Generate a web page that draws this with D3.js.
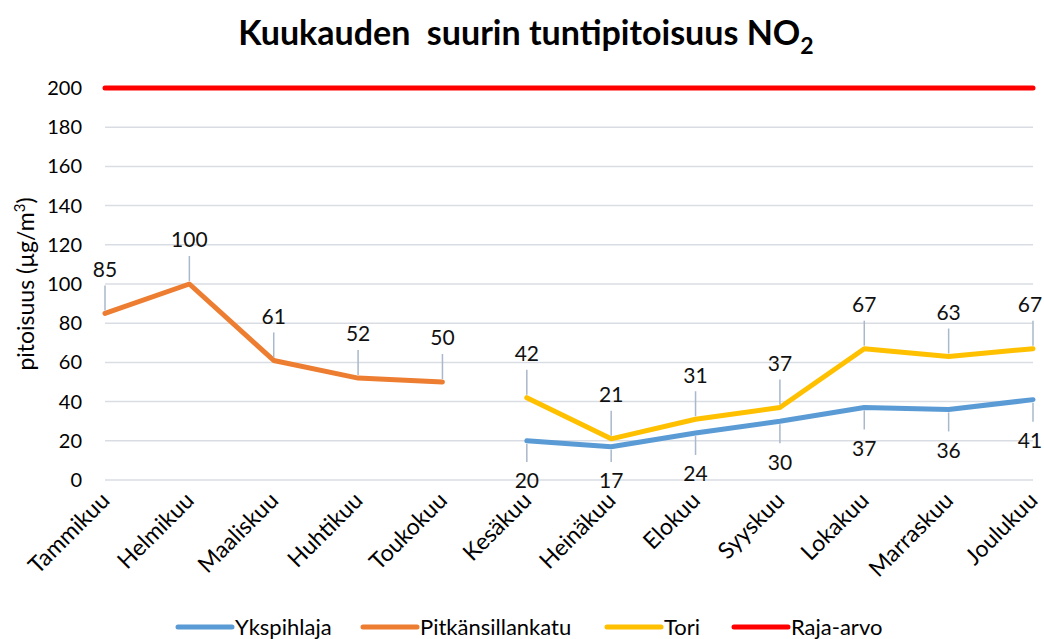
<!DOCTYPE html>
<meta charset="utf-8">
<style>
    body { margin: 0; background: #fff; }
    svg { font-family: Lato, "Open Sans", sans-serif; }
    .grid line { stroke: #D9DDE3; stroke-width: 1.5; }
    .ytick { font-size: 20px; fill: #000; text-anchor: end; }
    .xtick { font-size: 23px; fill: #000; text-anchor: end; }
    .series { fill: none; stroke-width: 5; stroke-linejoin: round; stroke-linecap: round; }
    .leader { stroke: #A9B8CB; stroke-width: 1.5; }
    .dlabel { font-size: 21px; fill: #111; text-anchor: middle; }
    .legend text { font-size: 22px; fill: #000; }
</style>
<body>
<script src="https://cdn.jsdelivr.net/npm/d3@7"></script>
<script>
    var months = ["Tammikuu", "Helmikuu", "Maaliskuu", "Huhtikuu", "Toukokuu", "Kesäkuu",
                  "Heinäkuu", "Elokuu", "Syyskuu", "Lokakuu", "Marraskuu", "Joulukuu"];

    // null = no measurement that month
    var ykspihlaja       = [null, null, null, null, null, 20, 17, 24, 30, 37, 36, 41];
    var pitkansillankatu = [85, 100, 61, 52, 50, null, null, null, null, null, null, null];
    var tori             = [null, null, null, null, null, 42, 21, 31, 37, 67, 63, 67];
    var rajaArvo         = [200, 200, 200, 200, 200, 200, 200, 200, 200, 200, 200, 200];

    var yTicks = [0, 20, 40, 60, 80, 100, 120, 140, 160, 180, 200];

    var series = [
        {name: "Ykspihlaja", values: ykspihlaja, color: "#5B9BD5", label: "below"},
        {name: "Pitkänsillankatu", values: pitkansillankatu, color: "#ED7D31", label: "above"},
        {name: "Tori", values: tori, color: "#FFC000", label: "above"},
        {name: "Raja-arvo", values: rajaArvo, color: "#FF0000", label: null}
    ];

    var W = 1044, H = 639;
    var plot = {left: 105, right: 1033, top: 88, bottom: 480};

    var x = d3.scalePoint().domain(months).range([plot.left, plot.right]);
    var y = d3.scaleLinear().domain([0, 200]).range([plot.bottom, plot.top]);

    var svg = d3.select("body").append("svg")
        .attr("width", W)
        .attr("height", H);

    // title
    var title = svg.append("text")
        .attr("x", 526)
        .attr("y", 45)
        .attr("text-anchor", "middle")
        .style("font-size", "34px")
        .style("font-weight", "bold");
    title.append("tspan").text("Kuukauden\u00a0\u00a0suurin tuntipitoisuus NO");
    title.append("tspan").attr("dy", 9).style("font-size", "23px").text("2");

    // gridlines
    svg.append("g").attr("class", "grid")
        .selectAll("line")
        .data(yTicks)
        .join("line")
        .attr("x1", plot.left).attr("x2", plot.right)
        .attr("y1", d => y(d)).attr("y2", d => y(d));

    svg.append("g")
        .selectAll("text")
        .data(yTicks)
        .join("text")
        .attr("class", "ytick")
        .attr("x", 82)
        .attr("y", d => y(d))
        .attr("dy", "0.35em")
        .text(d => d);

    var ylab = svg.append("text")
        .attr("transform", "translate(34," + ((plot.top + plot.bottom) / 2) + ") rotate(-90)")
        .attr("text-anchor", "middle")
        .style("font-size", "23px");
    ylab.append("tspan").text("pitoisuus (µg/m");
    ylab.append("tspan").attr("dy", -9).style("font-size", "15px").text("3");
    ylab.append("tspan").attr("dy", 9).text(")");

    // x labels
    svg.append("g")
        .selectAll("text")
        .data(months)
        .join("text")
        .attr("class", "xtick")
        .attr("transform", d => "translate(" + (x(d) + 6) + ",502) rotate(-45)")
        .text(d => d);

    // lines
    var line = d3.line()
        .defined(d => d.v != null)
        .x(d => x(d.m))
        .y(d => y(d.v));

    series.forEach(function(s) {
        var pts = months.map((m, i) => ({m: m, v: s.values[i]}));
        svg.append("path")
            .attr("class", "series")
            .attr("stroke", s.color)
            .attr("stroke-width", s.label ? 5 : 3)
            .attr("d", line(pts));
    });

    // data labels with leader lines
    series.filter(s => s.label).forEach(function(s) {
        var pts = months.map((m, i) => ({m: m, v: s.values[i]})).filter(d => d.v != null);
        var below = s.label == "below";
        var ly = d => below ? Math.min(y(d.v) + 41, 481) : y(d.v) - 44;
        var g = svg.append("g");
        g.selectAll("line")
            .data(pts)
            .join("line")
            .attr("class", "leader")
            .attr("x1", d => x(d.m)).attr("x2", d => x(d.m))
            .attr("y1", d => y(d.v) + (below ? 3 : -3))
            .attr("y2", d => ly(d) + (below ? -19 : 16));
        g.selectAll("text")
            .data(pts)
            .join("text")
            .attr("class", "dlabel")
            .attr("x", d => Math.min(x(d.m), 1030))
            .attr("y", ly)
            .attr("dy", "0.35em")
            .text(d => d.v);
    });

    // legend
    var legX = [178, 363, 607, 734];
    var leg = svg.append("g").attr("class", "legend");
    series.forEach(function(s, i) {
        leg.append("line")
            .attr("x1", legX[i]).attr("x2", legX[i] + 54)
            .attr("y1", 627).attr("y2", 627)
            .attr("stroke", s.color)
            .attr("stroke-width", 5)
            .attr("stroke-linecap", "round");
        leg.append("text")
            .attr("x", legX[i] + 57)
            .attr("y", 627)
            .attr("dy", "0.35em")
            .text(s.name);
    });
</script>
